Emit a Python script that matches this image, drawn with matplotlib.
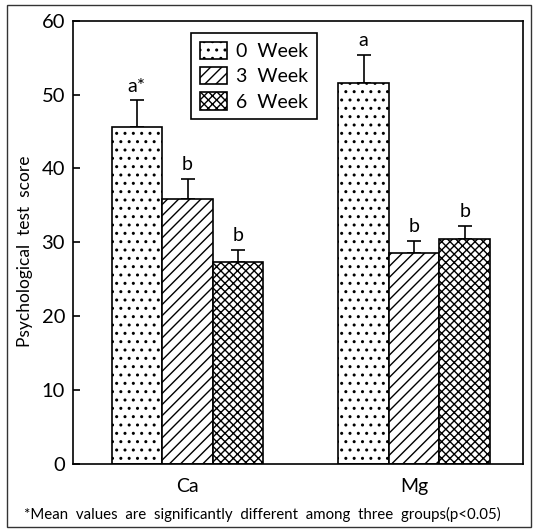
import matplotlib
matplotlib.use('Agg')
import matplotlib.pyplot as plt
import numpy as np
from matplotlib.patches import Rectangle

groups = ['Ca', 'Mg']
weeks = ['0  Week', '3  Week', '6  Week']
means = [[45.6, 51.5],   # 0 week
         [35.9, 28.5],   # 3 week
         [27.4, 30.4]]   # 6 week
errs = [[3.6, 3.9],
        [2.7, 1.7],
        [1.6, 1.8]]
letters = [['a*', 'a'],
           ['b', 'b'],
           ['b', 'b']]
hatches = ['..', '///', 'xxxx']

plt.rcParams['font.family'] = ['Lato', 'DejaVu Sans']
plt.rcParams['hatch.linewidth'] = 1.0

fig = plt.figure(figsize=(5.36, 5.29), dpi=100)
ax = fig.add_axes([0.137, 0.1229, 0.8387, 0.838])

x = np.arange(len(groups))
w = 0.2233
for i in range(len(weeks)):
    pos = x + (i - 1) * w
    ax.bar(pos, means[i], w, color='white', edgecolor='black', linewidth=1.2,
           hatch=hatches[i], label=weeks[i], zorder=2)
    ax.errorbar(pos, means[i], yerr=[np.zeros(len(groups)), errs[i]], fmt='none',
                ecolor='black', elinewidth=1.2, capsize=5, capthick=1.2, zorder=1)
    for p, m, e, t in zip(pos, means[i], errs[i], letters[i]):
        ax.text(p, m + e + 0.8, t, ha='center', va='bottom', fontsize=14)

ax.set_xlim(-0.5035, 1.48)
ax.set_ylim(0, 60)
ax.set_yticks([0, 10, 20, 30, 40, 50, 60])
ax.set_xticks(x)
ax.set_xticklabels(groups, fontsize=14)
ax.tick_params(axis='x', length=0, pad=10)
ax.tick_params(axis='y', direction='in', length=5, width=1.2, labelsize=14.5, pad=6)
for s in ax.spines.values():
    s.set_linewidth(1.2)
ax.set_ylabel('Psychological  test  score', fontsize=12.5)
ax.yaxis.set_label_coords(-0.09, 0.48)

leg = ax.legend(loc='upper left', bbox_to_anchor=(0.261, 0.972), borderaxespad=0,
                fancybox=False, edgecolor='black', fontsize=14,
                handlelength=1.4, handleheight=1.0, handletextpad=0.5,
                labelspacing=0.35, borderpad=0.45, framealpha=1)
leg.get_frame().set_linewidth(1.2)

fig.text(0.49, 1 - 514 / 529,
         '*Mean  values  are  significantly  different  among  three  groups(p<0.05)',
         ha='center', va='center', fontsize=10.8)
fig.patches.append(Rectangle((0.0125, 0.004), 0.978, 0.9865, transform=fig.transFigure,
                             fill=False, edgecolor='#333333', linewidth=1))

fig.savefig('out.png', dpi=100)
